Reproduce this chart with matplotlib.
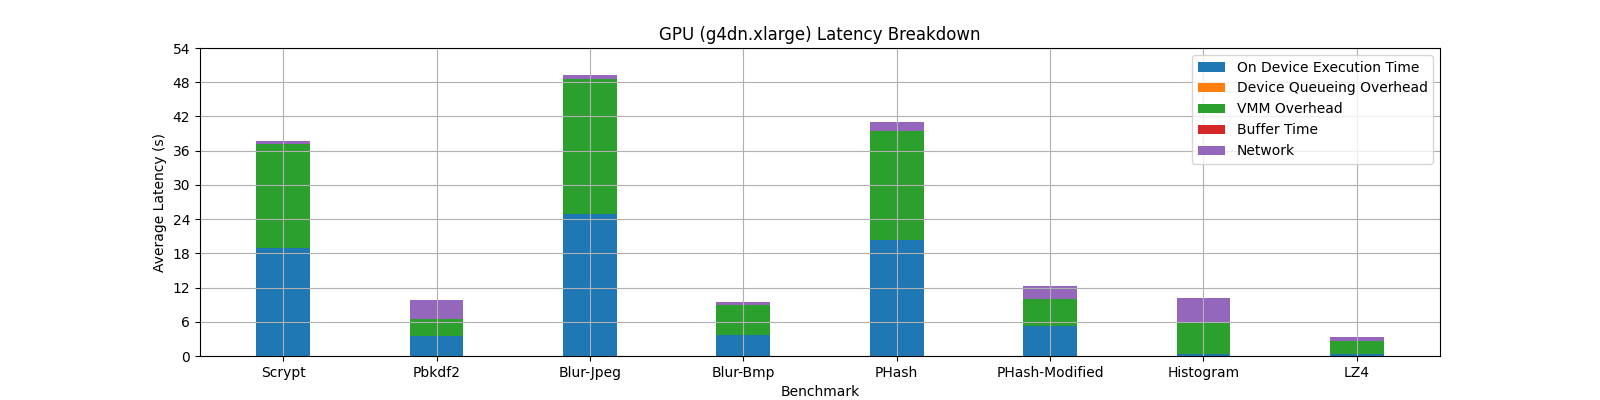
import matplotlib
matplotlib.use("Agg")
import matplotlib.pyplot as plt
import numpy as np

benchmarks = ["Scrypt", "Pbkdf2", "Blur-Jpeg", "Blur-Bmp", "PHash", "PHash-Modified", "Histogram", "LZ4"]
on_device = [19.0, 3.5, 24.9, 3.7, 20.3, 5.3, 0.4, 0.4]
queueing = [0.0, 0.0, 0.0, 0.0, 0.0, 0.0, 0.0, 0.0]
vmm = [18.2, 3.0, 23.6, 5.2, 19.2, 4.7, 5.5, 2.2]
buffer_time = [0.0, 0.0, 0.0, 0.0, 0.0, 0.0, 0.0, 0.0]
network = [0.5, 3.3, 0.8, 0.5, 1.5, 2.3, 4.3, 0.7]
yticks = [0, 6, 12, 18, 24, 30, 36, 42, 48, 54]

series = [
    ("On Device Execution Time", on_device, "#1f77b4"),
    ("Device Queueing Overhead", queueing, "#ff7f0e"),
    ("VMM Overhead", vmm, "#2ca02c"),
    ("Buffer Time", buffer_time, "#d62728"),
    ("Network", network, "#9467bd"),
]

fig, ax = plt.subplots(figsize=(16, 4), dpi=100)
x = np.arange(len(benchmarks))
bottom = np.zeros(len(benchmarks))
for label, vals, color in series:
    vals = np.array(vals)
    ax.bar(x, vals, 0.35, bottom=bottom, label=label, color=color)
    bottom += vals

ax.set_xticks(x)
ax.set_xticklabels(benchmarks)
ax.set_yticks(yticks)
ax.set_ylim(0, 54)
ax.grid(True)
ax.set_xlabel("Benchmark")
ax.set_ylabel("Average Latency (s)")
ax.set_title("GPU (g4dn.xlarge) Latency Breakdown")
ax.legend(loc="upper right")
fig.savefig("out.png", dpi=100)
